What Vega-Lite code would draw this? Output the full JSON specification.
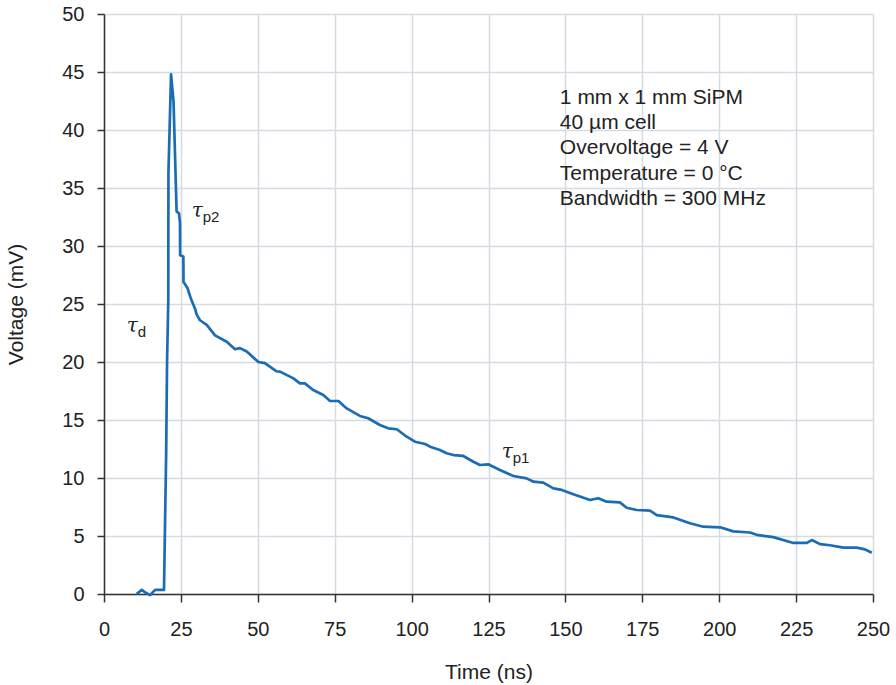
{
  "$schema": "https://vega.github.io/schema/vega-lite/v6.json",
  "width": 769,
  "height": 580,
  "autosize": {"type": "none"},
  "padding": {"left": 104, "top": 14, "right": 23, "bottom": 91},
  "background": "white",
  "config": {
    "view": {"stroke": null},
    "font": "Liberation Sans",
    "axis": {
      "domainColor": "#333333",
      "domainWidth": 1.5,
      "tickColor": "#333333",
      "tickWidth": 1.5,
      "gridColor": "#d5dbe3",
      "gridWidth": 1.5,
      "labelColor": "#222222",
      "titleColor": "#222222",
      "labelFont": "Liberation Sans",
      "titleFont": "Liberation Sans",
      "labelFontSize": 20,
      "titleFontSize": 21,
      "titleFontWeight": "normal",
      "labelFlush": false
    }
  },
  "datasets": {
    "trace": [
      {"t": 10.6, "v": 0.0}, {"t": 12.3, "v": 0.35}, {"t": 13.3, "v": 0.15}, {"t": 15.0, "v": -0.1},
      {"t": 16.6, "v": 0.35}, {"t": 19.5, "v": 0.35}, {"t": 20.2, "v": 12.0}, {"t": 20.5, "v": 20.0},
      {"t": 20.9, "v": 25.3}, {"t": 20.95, "v": 36.3}, {"t": 21.8, "v": 44.8}, {"t": 22.6, "v": 42.5},
      {"t": 23.6, "v": 33.0}, {"t": 24.4, "v": 32.8}, {"t": 24.7, "v": 32.0}, {"t": 24.75, "v": 29.2},
      {"t": 25.8, "v": 29.1}, {"t": 25.85, "v": 26.9}, {"t": 27.1, "v": 26.4}, {"t": 28.2, "v": 25.5},
      {"t": 29.6, "v": 24.6}, {"t": 30.1, "v": 24.1}, {"t": 31.2, "v": 23.6}, {"t": 33.4, "v": 23.2},
      {"t": 36.1, "v": 22.3}, {"t": 39.9, "v": 21.75}, {"t": 42.6, "v": 21.1}, {"t": 44.2, "v": 21.2},
      {"t": 46.4, "v": 20.9}, {"t": 50.2, "v": 20.0}, {"t": 52.3, "v": 19.9}, {"t": 56.1, "v": 19.2},
      {"t": 57.2, "v": 19.17}, {"t": 61.6, "v": 18.59}, {"t": 63.7, "v": 18.16}, {"t": 65.3, "v": 18.16},
      {"t": 68.0, "v": 17.59}, {"t": 71.3, "v": 17.16}, {"t": 73.5, "v": 16.64}, {"t": 76.2, "v": 16.64},
      {"t": 78.9, "v": 16.0}, {"t": 83.2, "v": 15.35}, {"t": 85.9, "v": 15.15}, {"t": 89.7, "v": 14.57},
      {"t": 92.4, "v": 14.28}, {"t": 95.2, "v": 14.2}, {"t": 98.4, "v": 13.56}, {"t": 101.1, "v": 13.13},
      {"t": 104.4, "v": 12.93}, {"t": 106.0, "v": 12.7}, {"t": 109.2, "v": 12.41}, {"t": 111.4, "v": 12.13},
      {"t": 113.6, "v": 11.98}, {"t": 116.8, "v": 11.9}, {"t": 120.1, "v": 11.4}, {"t": 122.2, "v": 11.12},
      {"t": 124.9, "v": 11.18}, {"t": 128.7, "v": 10.69}, {"t": 133.1, "v": 10.17}, {"t": 137.4, "v": 9.97},
      {"t": 139.6, "v": 9.68}, {"t": 142.8, "v": 9.6}, {"t": 146.1, "v": 9.11}, {"t": 148.8, "v": 8.97},
      {"t": 152.6, "v": 8.6}, {"t": 158.0, "v": 8.1}, {"t": 160.7, "v": 8.25}, {"t": 163.4, "v": 7.96},
      {"t": 167.7, "v": 7.9}, {"t": 169.9, "v": 7.44}, {"t": 173.2, "v": 7.24}, {"t": 177.5, "v": 7.18},
      {"t": 179.7, "v": 6.8}, {"t": 185.1, "v": 6.6}, {"t": 190.5, "v": 6.1}, {"t": 194.8, "v": 5.8},
      {"t": 200.3, "v": 5.75}, {"t": 204.6, "v": 5.4}, {"t": 210.0, "v": 5.3}, {"t": 212.2, "v": 5.1},
      {"t": 217.6, "v": 4.9}, {"t": 224.1, "v": 4.4}, {"t": 228.5, "v": 4.4}, {"t": 230.1, "v": 4.65},
      {"t": 232.8, "v": 4.3}, {"t": 236.0, "v": 4.2}, {"t": 240.4, "v": 4.0}, {"t": 244.7, "v": 4.0},
      {"t": 247.4, "v": 3.85}, {"t": 249.6, "v": 3.56}
    ],
    "notes": [
      {"t": 148.2, "v": 42.24, "text": "1 mm x 1 mm SiPM"},
      {"t": 148.2, "v": 40.06, "text": "40 µm cell"},
      {"t": 148.2, "v": 37.89, "text": "Overvoltage = 4 V"},
      {"t": 148.2, "v": 35.71, "text": "Temperature = 0 °C"},
      {"t": 148.2, "v": 33.53, "text": "Bandwidth = 300 MHz"}
    ],
    "taus": [
      {"t": 7.4, "v": 22.6, "sub": "d"},
      {"t": 28.5, "v": 32.5, "sub": "p2"},
      {"t": 129.3, "v": 11.7, "sub": "p1"}
    ]
  },
  "encoding": {
    "x": {
      "field": "t", "type": "quantitative",
      "scale": {"domain": [0, 250], "nice": false},
      "axis": {
        "values": [0, 25, 50, 75, 100, 125, 150, 175, 200, 225, 250],
        "title": "Time (ns)",
        "tickSize": 8,
        "labelPadding": 17,
        "titleBaseline": "alphabetic",
        "titleY": 84
      }
    },
    "y": {
      "field": "v", "type": "quantitative",
      "scale": {"domain": [0, 50], "nice": false},
      "axis": {
        "values": [0, 5, 10, 15, 20, 25, 30, 35, 40, 45, 50],
        "title": "Voltage (mV)",
        "tickSize": 7,
        "labelPadding": 13,
        "titleBaseline": "alphabetic",
        "titleX": -82
      }
    }
  },
  "layer": [
    {
      "data": {"name": "trace"},
      "mark": {"type": "line", "color": "#1a6cb4", "strokeWidth": 2.7, "strokeJoin": "round"}
    },
    {
      "data": {"name": "notes"},
      "mark": {"type": "text", "align": "left", "baseline": "alphabetic", "fontSize": 21, "color": "#222222"},
      "encoding": {"text": {"field": "text"}}
    },
    {
      "data": {"name": "taus"},
      "mark": {"type": "text", "text": "τ", "font": "DejaVu Serif", "fontStyle": "italic", "align": "left", "baseline": "alphabetic", "fontSize": 20, "color": "#222222"}
    },
    {
      "data": {"name": "taus"},
      "mark": {"type": "text", "align": "left", "baseline": "alphabetic", "fontSize": 15, "dx": 11, "dy": 5, "color": "#222222"},
      "encoding": {"text": {"field": "sub"}}
    }
  ]
}
